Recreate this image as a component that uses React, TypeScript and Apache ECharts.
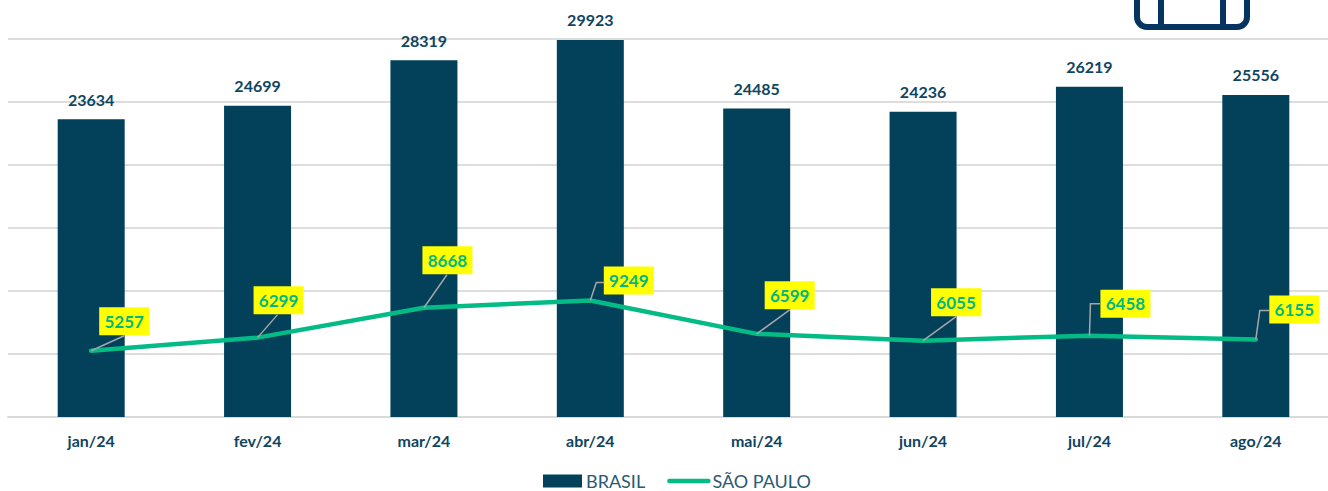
import React, { useEffect, useRef } from "react";
import * as echarts from "echarts";

const categories = ["jan/24", "fev/24", "mar/24", "abr/24", "mai/24", "jun/24", "jul/24", "ago/24"];
const brasil = [23634, 24699, 28319, 29923, 24485, 24236, 26219, 25556];
const saoPaulo = [5257, 6299, 8668, 9249, 6599, 6055, 6458, 6155];

const labelOffsets = [[33, -15], [21, -23], [23.5, -33], [38.5, -5.5], [33, -24], [33, -24], [36, -17.5], [38.5, -15.5]];
const leaderPaths = [
  [[33, -15]],
  [[20, -23]],
  [[23, -33]],
  [[6, -18], [14, -18]],
  [[33, -24]],
  [[33, -24]],
  [[1, -32], [11, -32]],
  [[4, -29], [14, -29]],
];

const FONT = "Lato";
const DARK = "#03405a";
const GREEN = "#05bb85";

export default function App() {
  const ref = useRef<HTMLDivElement>(null);
  useEffect(() => {
    document.body.style.margin = "0";
    const chart = echarts.init(ref.current!, null, { renderer: "svg" });
    chart.setOption({
      animation: false,
      backgroundColor: "#ffffff",
      textStyle: { fontFamily: FONT },
      grid: { left: 8, top: 39, width: 1331, height: 378, containLabel: false, outerBoundsMode: "none" },
      legend: {
        left: 543,
        top: 472,
        padding: 0,
        itemWidth: 39,
        itemHeight: 13,
        itemGap: 22,
        lineStyle: { width: 4.5 },
        data: [
          { name: "BRASIL", icon: "rect" },
          { name: "SÃO PAULO", itemStyle: { opacity: 0 } },
        ],
        textStyle: { fontFamily: FONT, fontSize: 18, color: "#2a5a72", padding: [0, 0, 0, -1] },
      },
      xAxis: {
        type: "category",
        data: categories,
        axisTick: { show: false },
        axisLine: { lineStyle: { color: "#d9d9d9", width: 2 } },
        axisLabel: { margin: 15, fontFamily: FONT, fontWeight: "bold", fontSize: 16, color: "#0f4560" },
      },
      yAxis: {
        type: "value",
        min: 0,
        max: 30000,
        interval: 5000,
        axisLine: { show: false },
        axisTick: { show: false },
        axisLabel: { show: false },
        splitLine: { lineStyle: { color: "#dddddd", width: 2 } },
      },
      series: [
        {
          name: "BRASIL",
          type: "bar",
          data: brasil,
          barWidth: 67,
          itemStyle: { color: DARK },
          z: 1,
          label: {
            show: true,
            position: "top",
            distance: 12,
            fontFamily: FONT,
            fontWeight: "bold",
            fontSize: 16,
            color: "#0f4560",
          },
        },
        {
          name: "SÃO PAULO",
          type: "line",
          data: saoPaulo.map((value, i) => ({
            value,
            label: { offset: labelOffsets[i] },
          })),
          showSymbol: true,
          symbol: "circle",
          symbolSize: 1,
          lineStyle: { color: GREEN, width: 4.5, cap: "round" },
          itemStyle: { color: GREEN },
          z: 2,
          label: {
            show: true,
            position: "top",
            distance: 0,
            width: 50,
            height: 28,
            lineHeight: 28,
            align: "center",
            backgroundColor: "#ffff00",
            fontFamily: FONT,
            fontWeight: "bold",
            fontSize: 17,
            color: "#00b887",
          },
        },
        {
          name: "leaders",
          type: "custom",
          data: saoPaulo.map((v, i) => [i, v]),
          encode: { x: 0, y: 1 },
          z: 3,
          silent: true,
          clip: false,
          renderItem: (params: any, api: any) => {
            const [px, py] = api.coord([api.value(0), api.value(1)]);
            const points = [[px, py], ...leaderPaths[params.dataIndex].map(([dx, dy]) => [px + dx, py + dy])];
            return {
              type: "polyline",
              shape: { points },
              style: { fill: "none", stroke: "#a6a6a6", lineWidth: 1.5 },
            };
          },
        },
      ],
      graphic: [
        {
          type: "rect",
          shape: { x: 1137, y: -30, width: 110, height: 57, r: 10 },
          style: { fill: "none", stroke: "#04345f", lineWidth: 6 },
        },
        {
          type: "line",
          shape: { x1: 1161, y1: 0, x2: 1161, y2: 27 },
          style: { stroke: "#04345f", lineWidth: 6 },
        },
        {
          type: "line",
          shape: { x1: 1223, y1: 0, x2: 1223, y2: 27 },
          style: { stroke: "#04345f", lineWidth: 6 },
        },
      ],
    });
    return () => chart.dispose();
  }, []);
  return <div ref={ref} style={{ width: 1328, height: 491 }} />;
}
